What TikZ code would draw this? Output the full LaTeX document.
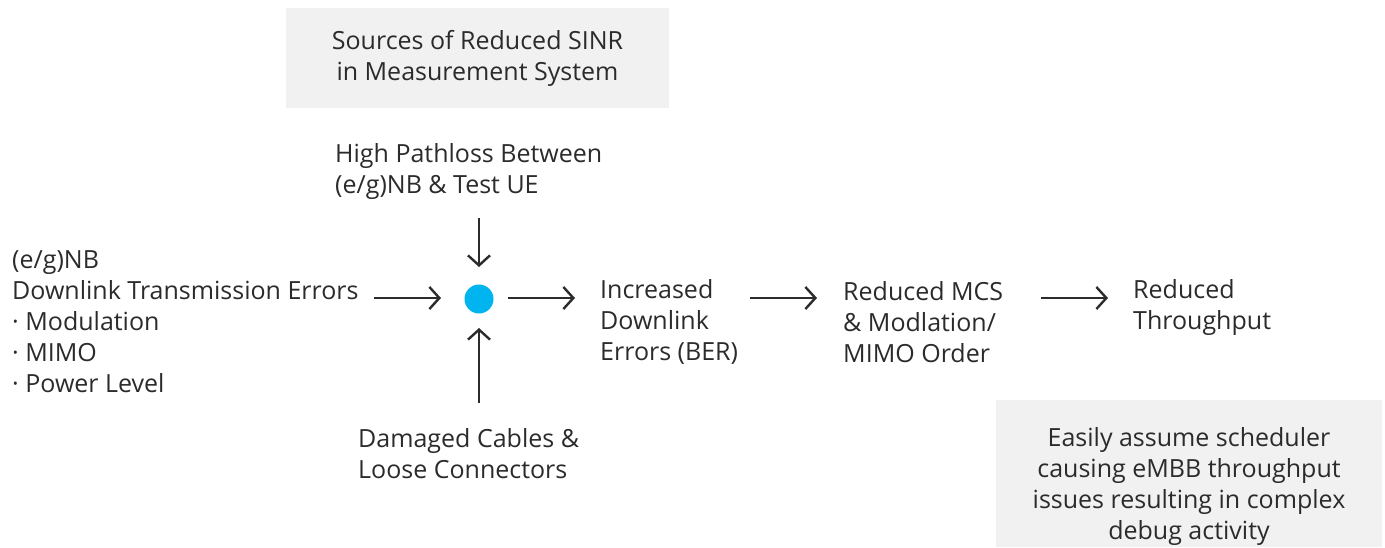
\documentclass[tikz,border=0pt]{standalone}
\usepackage{fontspec}
\setmainfont{Open Sans}
\usetikzlibrary{arrows.meta}
\definecolor{txt}{HTML}{2B2B2B}
\definecolor{boxgray}{HTML}{F0F1F0}
\definecolor{dotblue}{HTML}{00B5EF}
\begin{document}
\begin{tikzpicture}[x=1pt,y=-1pt,
  lbl/.style={font=\fontsize{25}{31}\selectfont, text=txt, inner sep=0pt, align=left, anchor=west},
  cbox/.style={font=\fontsize{25}{31}\selectfont, text=txt, fill=boxgray, inner sep=0pt, align=center},
  arr/.style={-{Straight Barb[length=10pt,width=22pt,line width=2.4pt]}, line width=2.4pt, color=txt}]
\useasboundingbox (0,0) rectangle (1385,547);
% boxes
\node[cbox, minimum width=383pt, minimum height=100pt] (src) at (477.5,58) {Sources of Reduced SINR\\in Measurement System};
\node[cbox, minimum width=386pt, minimum height=147pt, text depth=0pt] (note) at (1189,473.5) {};
\node[font=\fontsize{25}{31}\selectfont, text=txt, inner sep=0pt, align=center] (notetxt) at (1189,486) {Easily assume scheduler\\causing eMBB throughput\\issues resulting in complex\\debug activity};
% labels
\node[lbl] (high) at (335,171.5) {High Pathloss Between\\(e/g)NB \& Test UE};
\node[lbl] (dl) at (12,322) {(e/g)NB\\Downlink Transmission Errors\\{\textperiodcentered} Modulation\\{\textperiodcentered} MIMO\\{\textperiodcentered} Power Level};
\node[lbl] (dmg) at (358,454) {Damaged Cables \&\\Loose Connectors};
\node[lbl] (inc) at (600,322) {Increased\\Downlink\\Errors (BER)};
\node[lbl] (mcs) at (843,322) {Reduced MCS\\\& Modlation/\\MIMO Order};
\node[lbl] (thr) at (1133,307.5) {Reduced\\Throughput};
% dot
\node[circle, fill=dotblue, minimum size=29pt, inner sep=0pt] (dot) at (479,299) {};
% connectors
\coordinate (a1s) at (479,218); \coordinate (a1e) at (479,267);
\coordinate (a2s) at (479,403); \coordinate (a2e) at (479,328);
\coordinate (a3s) at (374,298); \coordinate (a3e) at (441,298);
\coordinate (a4s) at (508,298); \coordinate (a4e) at (575,298);
\coordinate (a5s) at (750,298); \coordinate (a5e) at (817,298);
\coordinate (a6s) at (1041,298); \coordinate (a6e) at (1108,298);
\draw[arr] (a1s) -- (a1e);
\draw[arr] (a2s) -- (a2e);
\draw[arr] (a3s) -- (a3e);
\draw[arr] (a4s) -- (a4e);
\draw[arr] (a5s) -- (a5e);
\draw[arr] (a6s) -- (a6e);
\end{tikzpicture}
\end{document}
